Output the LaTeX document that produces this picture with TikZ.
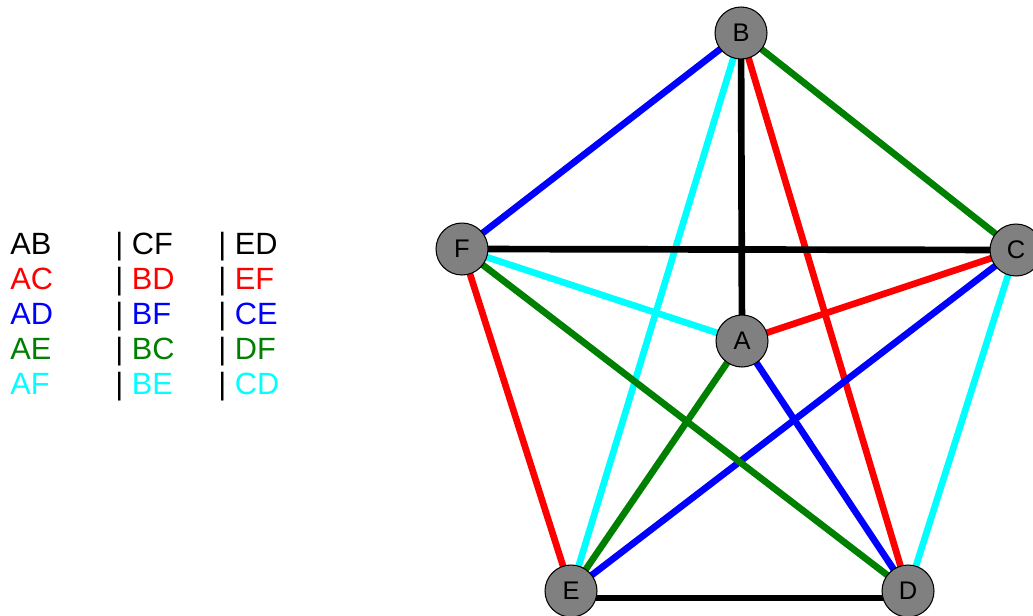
\documentclass[tikz,border=0pt]{standalone}
\usepackage{fontspec}
\setmainfont{Liberation Sans}
\usepackage{xcolor}
\usepackage{tikz}
\usetikzlibrary{positioning,backgrounds}
\definecolor{kred}{RGB}{255,0,0}
\definecolor{kblue}{RGB}{0,0,255}
\definecolor{kgreen}{RGB}{0,128,0}
\definecolor{kcyan}{RGB}{0,255,255}
\definecolor{kgray}{RGB}{128,128,128}
\tikzset{
  vtx/.style={circle, draw=black, fill=kgray, line width=0.6pt, minimum size=1.04cm,
              inner sep=0pt, font=\fontsize{14.5}{17}\selectfont},
  kedge/.style={line width=3.8pt},
  leg/.style={anchor=base west, inner sep=0pt, font=\fontsize{17.5}{20}\selectfont}
}

\begin{document}
\begin{tikzpicture}[x=0.02cm, y=-0.02cm]
\useasboundingbox (0,0) rectangle (1033,615);
% vertices
\node[vtx] (A) at (742,341) {A};
\node[vtx] (B) at (741,33) {B};
\node[vtx] (C) at (1016,250) {C};
\node[vtx] (D) at (908,591) {D};
\node[vtx] (E) at (571,591) {E};
\node[vtx] (F) at (462,249) {F};
% edges, one colour per perfect matching
\begin{pgfonlayer}{background}
\foreach \u/\v/\c in {A/B/black, A/C/kred, A/D/kblue, A/E/kgreen, A/F/kcyan,
                      B/D/kred, B/F/kblue, B/C/kgreen, B/E/kcyan, C/F/black,
                      E/F/kred, C/E/kblue, D/F/kgreen, C/D/kcyan}
  \draw[kedge, \c] (\u.center) -- (\v.center);
\draw[kedge, black] ([yshift=-4pt]E.center) -- ([yshift=-4pt]D.center);
\end{pgfonlayer}
% legend
\foreach \a/\b/\d/\c [count=\i] in {AB/CF/ED/black, AC/BD/EF/kred, AD/BF/CE/kblue,
                                     AE/BC/DF/kgreen, AF/BE/CD/kcyan} {
  \node[leg, text=\c] (l\i a) at (10,219+35*\i) {\a};
  \node[leg] (l\i b) at (115,219+35*\i) {| \textcolor{\c}{\b}};
  \node[leg] (l\i c) at (218,219+35*\i) {| \textcolor{\c}{\d}};
}
\end{tikzpicture}
\end{document}
